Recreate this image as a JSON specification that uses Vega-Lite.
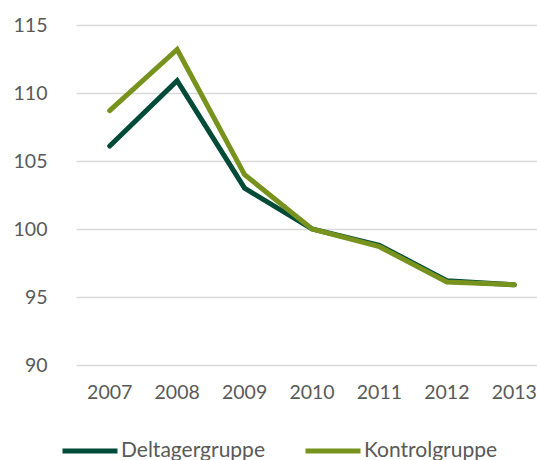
{
  "$schema": "https://vega.github.io/schema/vega-lite/v6.json",
  "autosize": "none",
  "padding": {"left": 76, "top": 25, "right": 0, "bottom": 95},
  "width": 472,
  "height": 340,
  "background": "white",
  "config": {"view": {"stroke": null}, "font": "Lato"},
  "data": {"values": [
    {"year": "2007", "group": "Deltagergruppe", "value": 106.1},
    {"year": "2008", "group": "Deltagergruppe", "value": 110.9},
    {"year": "2009", "group": "Deltagergruppe", "value": 103.0},
    {"year": "2010", "group": "Deltagergruppe", "value": 100.0},
    {"year": "2011", "group": "Deltagergruppe", "value": 98.8},
    {"year": "2012", "group": "Deltagergruppe", "value": 96.2},
    {"year": "2013", "group": "Deltagergruppe", "value": 95.9},
    {"year": "2007", "group": "Kontrolgruppe", "value": 108.7},
    {"year": "2008", "group": "Kontrolgruppe", "value": 113.2},
    {"year": "2009", "group": "Kontrolgruppe", "value": 104.0},
    {"year": "2010", "group": "Kontrolgruppe", "value": 100.0},
    {"year": "2011", "group": "Kontrolgruppe", "value": 98.7},
    {"year": "2012", "group": "Kontrolgruppe", "value": 96.1},
    {"year": "2013", "group": "Kontrolgruppe", "value": 95.9}
  ]},
  "mark": {"type": "line", "strokeWidth": 5, "strokeCap": "round", "strokeJoin": "miter"},
  "encoding": {
    "x": {
      "field": "year", "type": "ordinal", "title": null,
      "scale": {"type": "band", "paddingInner": 0, "paddingOuter": 0},
      "axis": {"domain": false, "ticks": false, "labelAngle": 0, "labelFontSize": 19.5, "labelColor": "#595959", "labelPadding": 18, "grid": false, "labelFont": "Lato"}
    },
    "y": {
      "field": "value", "type": "quantitative", "title": null,
      "scale": {"domain": [90, 115], "nice": false, "zero": false},
      "axis": {"values": [90, 95, 100, 105, 110, 115], "domain": false, "ticks": false, "labelFontSize": 19.5, "labelColor": "#595959", "labelPadding": 29, "gridColor": "#D9D9D9", "gridWidth": 1.5, "labelFont": "Lato"}
    },
    "color": {
      "field": "group", "type": "nominal", "title": null,
      "scale": {"domain": ["Deltagergruppe", "Kontrolgruppe"], "range": ["#004B37", "#77931E"]},
      "legend": {
        "orient": "none", "legendX": -16, "legendY": 396, "direction": "horizontal",
        "symbolType": "stroke", "symbolSize": 3025, "symbolStrokeWidth": 5,
        "labelFontSize": 21, "labelColor": "#595959", "labelOffset": 1, "columnPadding": 30, "labelFont": "Lato"
      }
    }
  }
}
